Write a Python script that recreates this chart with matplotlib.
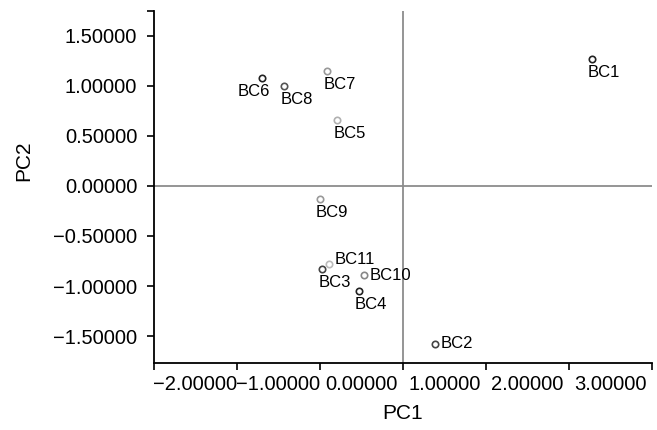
import matplotlib.pyplot as plt
from matplotlib.ticker import FixedLocator

plt.rcParams['font.family'] = ['Liberation Sans', 'DejaVu Sans']

# PCA scores
names = ['BC1', 'BC2', 'BC3', 'BC4', 'BC5', 'BC6', 'BC7', 'BC8', 'BC9', 'BC10', 'BC11']
pc1 = [2.78, 0.89, -0.47, -0.03, -0.29, -1.20, -0.41, -0.93, -0.50, 0.03, -0.39]
pc2 = [1.27, -1.58, -0.83, -1.05, 0.66, 1.08, 1.15, 1.00, -0.13, -0.89, -0.78]
x_labels = [-2, -1, 0, 1, 2, 3]
y_labels = [-1.5, -1.0, -0.5, 0.0, 0.5, 1.0, 1.5]

# marker edge colours and label placement (offset in points, alignment)
edge = {'BC1': '#222222', 'BC2': '#444444', 'BC3': '#444444', 'BC4': '#222222',
        'BC5': '#b0b0b0', 'BC6': '#222222', 'BC7': '#999999', 'BC8': '#555555',
        'BC9': '#999999', 'BC10': '#888888', 'BC11': '#bbbbbb'}
place = {'BC6': ((-6, -4), 'center', 'top'),
         'BC11': ((4, 3), 'left', 'center'),
         'BC10': ((4, 0), 'left', 'center'),
         'BC2': ((4, 0), 'left', 'center')}


def fmt(v):
    return '%.5f' % v if v >= 0 else '\u2212%.5f' % -v


fig = plt.figure(figsize=(6.57, 4.30), dpi=100)
ax = fig.add_axes([154 / 657, 67 / 430, 498 / 657, 352 / 430])

ax.axhline(0, color='#8c8c8c', lw=1.3, zorder=1)
ax.axvline(0.5, color='#8c8c8c', lw=1.3, zorder=1)

for n, x, y in zip(names, pc1, pc2):
    ax.plot(x, y, 'o', ms=4.6, mfc='white', mec=edge[n], mew=1.2, zorder=3)
    off, ha, va = place.get(n, ((-3, -4), 'left', 'top'))
    ax.annotate(n, (x, y), xytext=off, textcoords='offset points',
                ha=ha, va=va, fontsize=12)

ax.set_xlim(-2.5, 3.5)
ax.set_ylim(-1.77, 1.75)

# ticks sit between the value labels on x, as in the original
ax.xaxis.set_major_locator(FixedLocator([-2.5, -1.5, -0.5, 0.5, 1.5, 2.5, 3.5]))
ax.set_xticklabels([])
ax.set_xticks(x_labels, minor=True)
ax.set_xticklabels([fmt(v) for v in x_labels], minor=True, fontsize=14.5)
ax.tick_params(axis='x', which='minor', length=0, pad=9)

ax.set_yticks(y_labels + [1.75])
ax.set_yticklabels([fmt(v) for v in y_labels] + [''], fontsize=14.5)
ax.tick_params(axis='both', which='major', length=5, width=1.2, direction='out', pad=7)

for s in ['top', 'right']:
    ax.spines[s].set_visible(False)
for s in ['left', 'bottom']:
    ax.spines[s].set_linewidth(1.3)

ax.set_xlabel('PC1', fontsize=15, labelpad=7)
ax.set_ylabel('PC2', fontsize=15)
ax.yaxis.set_label_coords(-0.243, 0.575)

fig.savefig('out.png', dpi=100)
